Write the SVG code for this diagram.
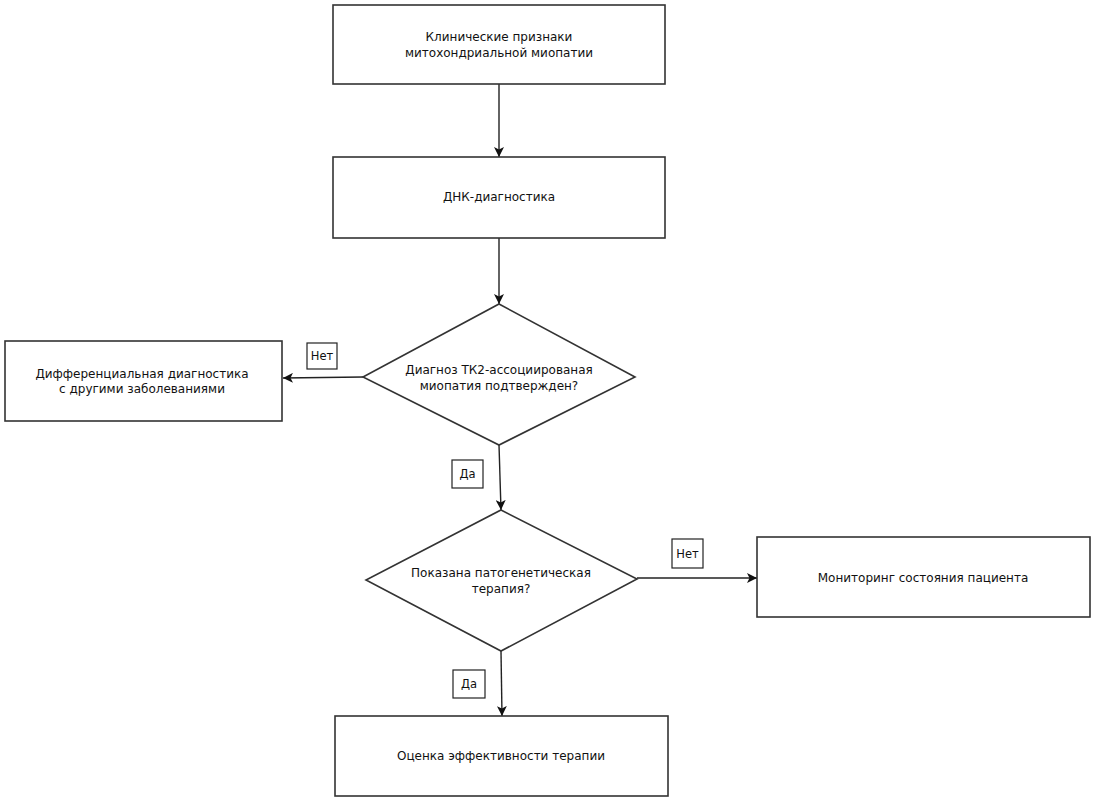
<svg xmlns="http://www.w3.org/2000/svg" width="1095" height="801" viewBox="0 0 1095 801">
<style>
.box{fill:#fff;stroke:#333;stroke-width:1.6}
.lbl{fill:#fff;stroke:#222;stroke-width:1.2}
.edge{fill:none;stroke:#222;stroke-width:1.4}
text{font-family:"DejaVu Sans","Noto Sans",sans-serif;font-size:12px;fill:#111;text-anchor:middle}
.s{font-size:11.5px}
</style>
<defs>
<marker id="arr" viewBox="0 0 10 10" refX="10" refY="5" markerWidth="10" markerHeight="10" markerUnits="userSpaceOnUse" orient="auto">
<path d="M0,0 L10,5 L0,10 L2.5,5 Z" fill="#111"/>
</marker>
</defs>
<rect width="1095" height="801" fill="#fff"/>
<g id="connectors">
<line class="edge" x1="499" y1="84" x2="499" y2="157" marker-end="url(#arr)"/>
<line class="edge" x1="499" y1="238" x2="499" y2="304" marker-end="url(#arr)"/>
<line class="edge" x1="363" y1="377" x2="283" y2="378" marker-end="url(#arr)"/>
<line class="edge" x1="499" y1="445" x2="501" y2="510" marker-end="url(#arr)"/>
<line class="edge" x1="637" y1="578" x2="757" y2="578" marker-end="url(#arr)"/>
<line class="edge" x1="501" y1="651" x2="502" y2="716" marker-end="url(#arr)"/>
<g id="label-net1"><rect class="lbl" x="307" y="343" width="30" height="26"/><text class="s" x="322" y="360">Нет</text></g>
<g id="label-da1"><rect class="lbl" x="452" y="460" width="31" height="28"/><text class="s" x="467.5" y="478">Да</text></g>
<g id="label-net2"><rect class="lbl" x="672" y="539" width="31" height="29"/><text class="s" x="687.5" y="558">Нет</text></g>
<g id="label-da2"><rect class="lbl" x="453" y="670" width="32" height="28"/><text class="s" x="469" y="688">Да</text></g>
</g>
<g id="n1"><rect class="box" x="333" y="5" width="332" height="79"/><text x="499" y="41">Клинические признаки</text><text x="499" y="57">митохондриальной миопатии</text></g>
<g id="n2"><rect class="box" x="333" y="157" width="332" height="81"/><text x="499" y="201">ДНК-диагностика</text></g>
<g id="d1"><polygon class="box" points="499,304 635,377 499,445 363,377"/><text x="499" y="374">Диагноз ТК2-ассоциированая</text><text x="499" y="390">миопатия подтвержден?</text></g>
<g id="n3"><rect class="box" x="5" y="341" width="277" height="80"/><text x="142" y="378">Дифференциальная диагностика</text><text x="142" y="393">с другими заболеваниями</text></g>
<g id="d2"><polygon class="box" points="501,510 637,579 501,651 366,580"/><text x="501" y="577">Показана патогенетическая</text><text x="501" y="593">терапия?</text></g>
<g id="n4"><rect class="box" x="757" y="537" width="333" height="80"/><text x="923" y="582">Мониторинг состояния пациента</text></g>
<g id="n5"><rect class="box" x="335" y="716" width="333" height="80"/><text x="501" y="760">Оценка эффективности терапии</text></g>
</svg>
